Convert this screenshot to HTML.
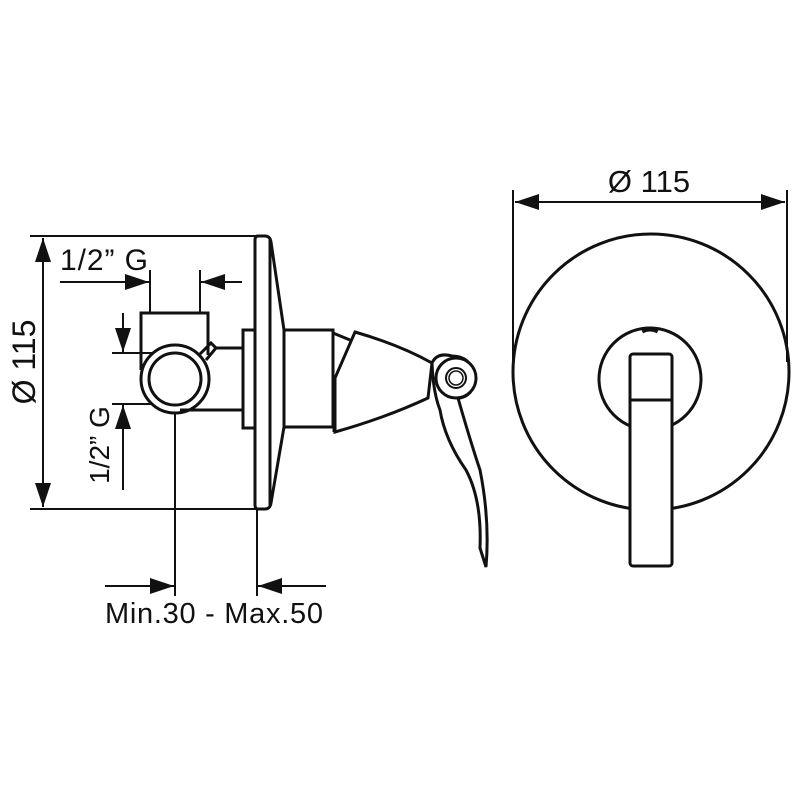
<!DOCTYPE html>
<html><head><meta charset="utf-8"><style>body{margin:0;background:#fff}svg{display:block}</style></head><body>
<svg width="800" height="800" viewBox="0 0 800 800" xmlns="http://www.w3.org/2000/svg" font-family="Liberation Sans, sans-serif" fill="none" stroke="#111">
<defs>
<marker id="b" markerWidth="24" markerHeight="16" refX="24" refY="8" orient="auto" markerUnits="userSpaceOnUse"><path d="M0,0 L24,8 L0,16 Z" fill="#111" stroke="none"/></marker>
</defs>
<g stroke-width="2">
<line x1="30" y1="236" x2="258" y2="236"/>
<line x1="30" y1="509" x2="258" y2="509"/>
<line x1="43" y1="370" x2="43" y2="238" marker-end="url(#b)"/>
<line x1="43" y1="370" x2="43" y2="507" marker-end="url(#b)"/>
<line x1="150" y1="270" x2="150" y2="313"/>
<line x1="200" y1="270" x2="200" y2="313"/>
<line x1="60" y1="282" x2="149" y2="282" marker-end="url(#b)"/>
<line x1="242" y1="282" x2="201" y2="282" marker-end="url(#b)"/>
<line x1="112" y1="353" x2="175" y2="353"/>
<line x1="112" y1="404" x2="175" y2="404"/>
<line x1="123" y1="313" x2="123" y2="352" marker-end="url(#b)"/>
<line x1="123" y1="490" x2="123" y2="405" marker-end="url(#b)"/>
<line x1="175" y1="412" x2="175" y2="596"/>
<line x1="257" y1="509" x2="257" y2="596"/>
<line x1="105" y1="586" x2="174" y2="586" marker-end="url(#b)"/>
<line x1="326" y1="586" x2="258" y2="586" marker-end="url(#b)"/>
</g>
<g fill="#111" stroke="none">
<text x="60" y="270" font-size="30" textLength="88">1/2” G</text>
<text transform="translate(35,362) rotate(-90)" text-anchor="middle" font-size="32">Ø 115</text>
<text transform="translate(109,445) rotate(-90)" text-anchor="middle" font-size="28">1/2” G</text>
<text x="105" y="623" font-size="29" textLength="218">Min.30 - Max.50</text>
<text x="649" y="192" text-anchor="middle" font-size="31">Ø 115</text>
</g>
<g stroke-width="3">
<path d="M141,370 L141,313 L208,313 L208,355"/>
<circle cx="175" cy="379" r="34" fill="#fff"/>
<circle cx="175" cy="379" r="26"/>
<path d="M200,354 L211,343 L216,348 L206,360"/>
<line x1="215" y1="348" x2="243" y2="348"/>
<line x1="180" y1="410" x2="243" y2="410"/>
<rect x="243" y="330" width="12" height="98"/>
<path d="M258,236 L265,236 Q270,236 271,242 L284,330 L284,427 L271,503 Q270,509 265,509 L258,509 Q255,509 255,505 L255,240 Q255,236 258,236 Z" fill="#fff"/>
<line x1="270" y1="240" x2="270" y2="505"/>
<rect x="284" y="330" width="49" height="97" fill="#fff"/>
<line x1="335" y1="378" x2="335" y2="432" stroke-width="5"/>
<path d="M333,333 L350,340"/>
<path d="M355,332 Q400,345 432,363 L428,398 Q385,418 335,432 L335,378 Z" fill="#fff"/>
<path d="M432,363 Q437,352 452,356 Q470,356 475,375 Q475,395 460,398 L458,398 Q470,440 480,470 Q490,520 486,567 L480,548 Q482,500 466,470 Q445,440 440,410 Q433,392 432,363 Z" fill="#fff"/>
<circle cx="456" cy="378" r="20" fill="#fff"/>
<circle cx="456" cy="378" r="10" stroke-width="2"/>
<circle cx="456" cy="378" r="7" stroke-width="1.5"/>
</g>
<g stroke-width="2">
<line x1="513" y1="190" x2="513" y2="362"/>
<line x1="787" y1="190" x2="787" y2="362"/>
<line x1="650" y1="202" x2="515" y2="202" marker-end="url(#b)"/>
<line x1="650" y1="202" x2="785" y2="202" marker-end="url(#b)"/>
</g>
<g stroke-width="3">
<circle cx="651" cy="372" r="138"/>
<circle cx="650" cy="379" r="51" fill="#fff"/>
<path d="M642,331 Q650,327 658,331" stroke-width="5"/>
<rect x="630" y="354" width="42" height="212" rx="3" fill="#fff"/>
<line x1="630" y1="400" x2="672" y2="400"/>
</g>
</svg>
</body></html>
